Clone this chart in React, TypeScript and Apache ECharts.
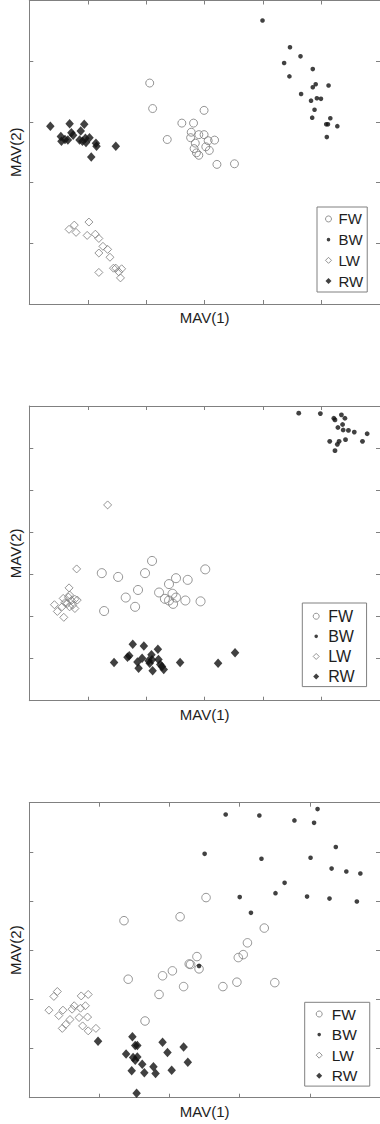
import React, { useEffect, useRef } from "react";
import * as echarts from "echarts";

// ---- Data (arbitrary MAV units, axes have no tick labels) ----
const SERIES_NAMES = ["FW", "BW", "LW", "RW"];

// Panel 1
const FW_1 = [[2.06,3.64],[2.11,3.22],[2.99,3.19],[2.61,2.98],[2.81,2.98],[2.36,2.71],[2.77,2.83],[2.90,2.79],[2.99,2.79],[2.76,2.74],[3.06,2.69],[3.17,2.70],[2.84,2.65],[3.02,2.59],[2.82,2.56],[3.08,2.53],[2.86,2.49],[2.90,2.45],[3.21,2.30],[3.51,2.31]];
const BW_1 = [[3.99,4.67],[4.46,4.23],[4.64,4.08],[4.36,3.97],[4.85,3.87],[4.45,3.75],[4.90,3.62],[4.85,3.57],[5.12,3.60],[4.65,3.46],[4.92,3.39],[4.99,3.38],[4.82,3.35],[4.88,3.20],[4.84,3.07],[5.15,3.06],[5.08,2.96],[5.11,2.96],[5.27,2.93],[5.09,2.75]];
const LW_1 = [[0.68,1.23],[0.77,1.30],[0.80,1.18],[1.02,1.35],[0.99,1.13],[1.13,1.15],[1.19,1.08],[1.26,0.95],[1.19,0.84],[1.34,0.90],[1.38,0.77],[1.44,0.59],[1.48,0.59],[1.53,0.53],[1.58,0.58],[1.19,0.52],[1.56,0.43]];
const RW_1 = [[0.36,2.93],[0.69,2.97],[0.94,2.96],[0.54,2.76],[0.72,2.82],[0.88,2.85],[0.75,2.78],[0.61,2.71],[0.55,2.68],[0.66,2.70],[0.86,2.70],[0.96,2.73],[1.03,2.74],[0.97,2.66],[0.91,2.68],[1.14,2.65],[1.15,2.60],[1.06,2.42],[1.48,2.60]];

// Panel 2
const FW_2 = [[2.10,3.32],[1.24,3.03],[1.52,2.94],[1.98,3.03],[3.01,3.12],[2.51,2.91],[2.71,2.87],[2.39,2.77],[1.86,2.63],[1.65,2.45],[2.22,2.57],[2.32,2.42],[2.45,2.54],[2.39,2.38],[2.51,2.45],[2.46,2.30],[2.67,2.38],[2.93,2.36],[1.81,2.23],[1.28,2.13]];
const BW_2 = [[4.61,6.83],[4.98,6.82],[5.21,6.71],[5.23,6.67],[5.34,6.79],[5.40,6.71],[5.36,6.56],[5.28,6.49],[5.37,6.43],[5.46,6.42],[5.56,6.38],[5.78,6.34],[5.14,6.16],[5.30,6.16],[5.27,6.09],[5.41,6.20],[5.70,6.16],[5.23,5.94]];
const LW_2 = [[1.34,4.65],[0.81,3.13],[0.68,2.68],[0.69,2.51],[0.58,2.43],[0.43,2.28],[0.48,2.12],[0.59,1.98],[0.65,2.31],[0.72,2.38],[0.78,2.41],[0.82,2.39],[0.74,2.27],[0.69,2.23],[0.78,2.19],[0.61,2.33],[0.56,2.23],[0.67,2.46]];
const RW_2 = [[1.77,1.34],[1.96,1.30],[2.20,1.22],[1.45,0.91],[1.68,1.03],[1.71,1.07],[1.85,0.92],[1.93,1.01],[2.09,1.09],[2.10,0.97],[2.06,0.89],[2.21,0.98],[2.24,0.86],[2.27,0.81],[2.30,0.74],[1.87,0.77],[2.11,0.71],[2.58,0.91],[3.23,0.89],[3.52,1.14],[2.04,0.95]];

// Panel 3
const FW_3 = [[2.52,4.07],[2.15,3.68],[1.35,3.60],[3.35,3.45],[3.11,3.15],[3.05,2.91],[2.98,2.85],[2.39,2.87],[2.28,2.72],[2.30,2.71],[2.42,2.62],[2.04,2.58],[1.90,2.48],[1.41,2.41],[2.20,2.26],[1.85,2.10],[2.76,2.26],[2.96,2.35],[3.50,2.34],[1.65,1.56]];
const BW_3 = [[2.80,5.76],[3.28,5.74],[3.78,5.64],[4.06,5.59],[4.11,5.87],[2.50,4.96],[3.31,4.86],[4.01,4.88],[4.37,5.10],[4.31,4.66],[4.52,4.60],[4.72,4.56],[3.64,4.37],[3.51,4.16],[3.00,4.08],[3.96,4.09],[4.28,4.05],[4.67,3.99],[3.16,3.76],[2.42,2.68]];
const LW_3 = [[0.40,2.16],[0.35,2.06],[0.74,2.07],[0.84,2.10],[0.28,1.78],[0.42,1.67],[0.48,1.78],[0.64,1.87],[0.61,1.80],[0.80,1.87],[0.58,1.59],[0.52,1.49],[0.71,1.63],[0.83,1.64],[0.47,1.41],[0.76,1.46],[0.84,1.36],[0.95,1.41],[0.73,1.82]];
const RW_3 = [[0.98,1.15],[1.47,1.24],[1.90,1.13],[2.20,1.03],[1.38,0.89],[1.51,1.06],[1.54,1.06],[1.97,0.92],[1.48,0.82],[1.54,0.83],[1.51,0.76],[1.61,0.68],[1.77,0.63],[1.46,0.55],[1.64,0.51],[1.80,0.49],[2.03,0.56],[2.26,0.72],[1.53,0.09]];

const PANEL_DATA = [
  [FW_1, BW_1, LW_1, RW_1],
  [FW_2, BW_2, LW_2, RW_2],
  [FW_3, BW_3, LW_3, RW_3],
];
const X_MAX = [6, 6, 5];
const Y_MAX = [5, 7, 6];
const X_LABEL = "MAV(1)";
const Y_LABEL = "MAV(2)";

// ---- Layout / style ----
const FONT = "'Liberation Sans', Arial, Helvetica, sans-serif";
const AXIS_COLOR = "#808080";
const GRAY = "#7a7a7a";
const BLACK = "#111111";
const TEXT_COLOR = "#1e1e1e";

const GRIDS = [
  { left: 29.3, top: 0.5, width: 351.7, height: 303.5 },
  { left: 29.3, top: 406, width: 351.7, height: 294.7 },
  { left: 29.3, top: 802.7, width: 351.5, height: 295 },
];
const CIRCLE_SIZE = [8, 9, 8.5];
const DOT_SIZE = [4.6, 4.8, 4.6];
const LEGENDS = [
  { left: 317, top: 207, padding: [1.6, 4, 0.6, 8], textPad: 2, fontSize: 15, lineHeight: 20.7 },
  { left: 302.3, top: 603, padding: [3.2, 12, 0, 10.4], textPad: 4, fontSize: 16, lineHeight: 20.1 },
  { left: 304.7, top: 1002.3, padding: [1.4, 12.4, 0, 11], textPad: 4.6, fontSize: 15.5, lineHeight: 20.6 },
];
// small dot inside a 6x6 box (corner moveTo points keep the icon box size)
const SMALL_DOT_ICON = "path://M0,0M6,6M3,1.2A1.8,1.8,0,1,1,3,4.8A1.8,1.8,0,1,1,3,1.2Z";

function seriesStyle(kind: number, panel: number) {
  if (kind === 0)
    return {
      symbol: "circle",
      symbolSize: CIRCLE_SIZE[panel],
      itemStyle: { color: "rgba(0,0,0,0)", borderColor: GRAY, borderWidth: 1 },
    };
  if (kind === 1)
    return { symbol: "circle", symbolSize: DOT_SIZE[panel], itemStyle: { color: BLACK } };
  if (kind === 2)
    return {
      symbol: "diamond",
      symbolSize: [8, 8],
      itemStyle: { color: "rgba(0,0,0,0)", borderColor: GRAY, borderWidth: 1 },
    };
  return { symbol: "diamond", symbolSize: [8.5, 9.5], itemStyle: { color: BLACK } };
}

function legendItems() {
  return [
    { name: "FW", icon: "circle", itemStyle: { color: "rgba(0,0,0,0)", borderColor: GRAY, borderWidth: 1 } },
    { name: "BW", icon: SMALL_DOT_ICON, itemStyle: { color: BLACK, borderWidth: 0 } },
    { name: "LW", icon: "diamond", itemStyle: { color: "rgba(0,0,0,0)", borderColor: GRAY, borderWidth: 1 } },
    { name: "RW", icon: "diamond", itemStyle: { color: BLACK, borderWidth: 0 } },
  ];
}

function buildOption() {
  const axisLine = { show: true, onZero: false, lineStyle: { color: AXIS_COLOR, width: 1 } };
  const axisTick = { show: true, inside: true, length: 4, lineStyle: { color: AXIS_COLOR, width: 1 } };
  const nameTextStyle = { fontSize: 15, color: TEXT_COLOR, fontFamily: FONT };
  const xAxis: any[] = [];
  const yAxis: any[] = [];
  const series: any[] = [];
  const legend: any[] = [];

  GRIDS.forEach((_, g) => {
    const base = { gridIndex: g, type: "value", min: 0, interval: 1, axisLine, axisTick, axisLabel: { show: false }, splitLine: { show: false } };
    xAxis.push({ ...base, max: X_MAX[g], position: "bottom", name: X_LABEL, nameLocation: "middle", nameGap: 6, nameTextStyle });
    xAxis.push({ ...base, max: X_MAX[g], position: "top" });
    yAxis.push({ ...base, max: Y_MAX[g], position: "left", name: Y_LABEL, nameLocation: "middle", nameGap: 6, nameTextStyle });
    yAxis.push({ ...base, max: Y_MAX[g], position: "right" });

    PANEL_DATA[g].forEach((pts, k) => {
      series.push({
        type: "scatter",
        name: SERIES_NAMES[k],
        xAxisIndex: g * 2,
        yAxisIndex: g * 2,
        data: pts,
        ...seriesStyle(k, g),
      });
    });

    const L = LEGENDS[g];
    legend.push({
      orient: "vertical",
      left: L.left,
      top: L.top,
      padding: L.padding,
      itemWidth: 6,
      itemHeight: 6,
      itemGap: 0,
      borderColor: AXIS_COLOR,
      borderWidth: 1,
      backgroundColor: "#ffffff",
      selectedMode: false,
      formatter: "{t|{name}}",
      textStyle: {
        fontSize: L.fontSize,
        lineHeight: L.lineHeight,
        color: TEXT_COLOR,
        fontFamily: FONT,
        rich: {
          t: {
            fontSize: L.fontSize,
            lineHeight: L.lineHeight,
            color: TEXT_COLOR,
            fontFamily: FONT,
            padding: [0, 0, 0, L.textPad],
          },
        },
      },
      data: legendItems(),
    });
  });

  return {
    animation: false,
    backgroundColor: "#ffffff",
    grid: GRIDS.map((r) => ({ ...r, containLabel: false })),
    xAxis,
    yAxis,
    legend,
    series,
  };
}

export default function App() {
  const ref = useRef<HTMLDivElement>(null);
  useEffect(() => {
    if (!ref.current) return;
    const chart = echarts.init(ref.current, undefined, { renderer: "svg" });
    chart.setOption(buildOption() as any);
    return () => chart.dispose();
  }, []);
  return (
    <div
      ref={ref}
      style={{ position: "absolute", left: 0, top: 0, width: 380, height: 1124, background: "#fff" }}
    />
  );
}
